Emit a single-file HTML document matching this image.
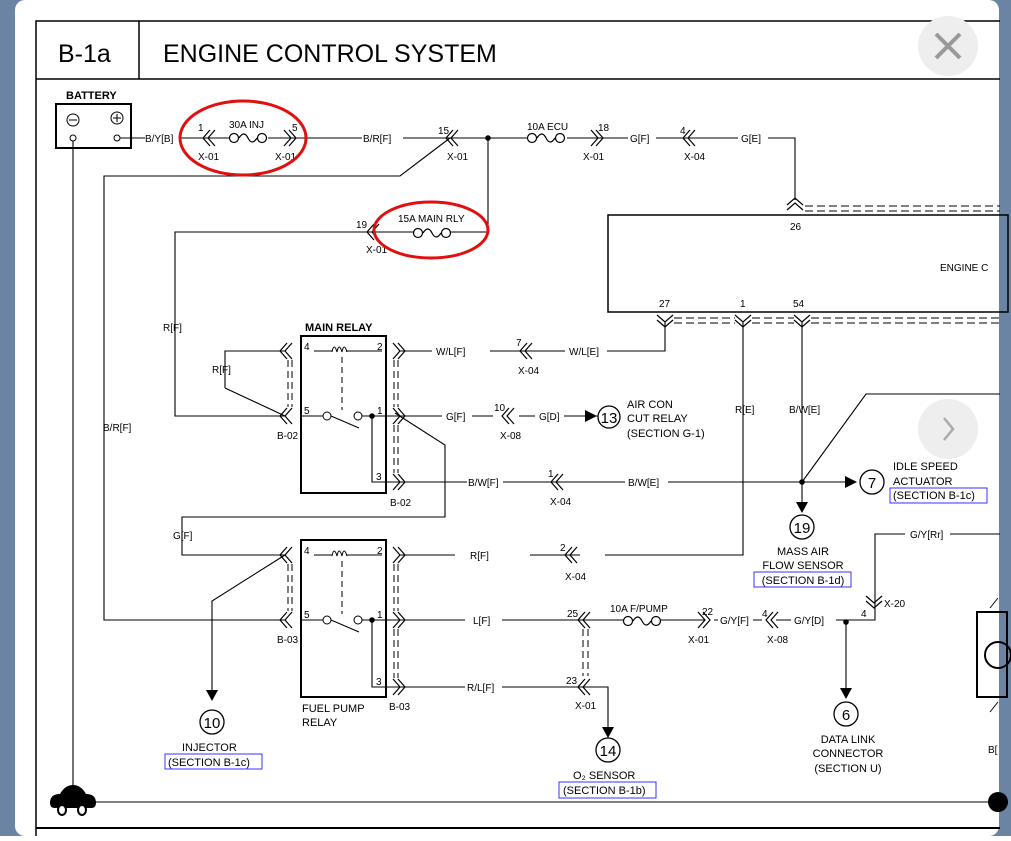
<!DOCTYPE html>
<html><head><meta charset="utf-8"><style>
html,body{margin:0;padding:0;background:#fff;}
body{width:1011px;height:836px;overflow:hidden;position:relative;font-family:"Liberation Sans",sans-serif;}
</style></head><body>
<svg width="1011" height="836" viewBox="0 0 1011 836" xmlns="http://www.w3.org/2000/svg" font-family="Liberation Sans, sans-serif">
<defs>
<g id="cl" fill="none" stroke="#000" stroke-width="1.2"><path d="M7,-8 L0,0 L7,8 M12,-8 L5,0 L12,8"/></g>
<g id="cr" fill="none" stroke="#000" stroke-width="1.2"><path d="M-7,-8 L0,0 L-7,8 M-12,-8 L-5,0 L-12,8"/></g>
<g id="cd" fill="none" stroke="#000" stroke-width="1.2"><path d="M-8,-7 L0,0 L8,-7 M-8,-12 L0,-5 L8,-12"/></g>
<g id="cu" fill="none" stroke="#000" stroke-width="1.2"><path d="M-8,7 L0,0 L8,7 M-8,12 L0,5 L8,12"/></g>
<g id="fuse" fill="#fff" stroke="#000" stroke-width="1.2"><circle cx="0" cy="0" r="4.5"/><path d="M5,0 q5,-8 9,0 t9,0" fill="none"/><circle cx="28" cy="0" r="4.5"/></g>
</defs>
<rect x="0" y="0" width="1011" height="836" fill="#6b84a3"/>
<rect x="15" y="0" width="984" height="836" rx="10" fill="#fff"/>
<g stroke="#000" fill="none" stroke-width="1.5">
<path d="M36,836 V21 H1000"/><path d="M36,79 H1000"/><path d="M139,21 V79"/>
<path d="M36,828 H1000" stroke-width="2"/>
</g>
<text x="58" y="62" font-size="25">B-1a</text>
<text x="163" y="62" font-size="25">ENGINE CONTROL SYSTEM</text>
<circle cx="948" cy="46" r="30" fill="#eee"/>
<path d="M936,34 L960,58 M960,34 L936,58" stroke="#999" stroke-width="4"/>
<circle cx="948" cy="429" r="30" fill="#eee"/>
<path d="M944,418 L953,429 L944,440" stroke="#aaa" stroke-width="2.5" fill="none"/>
<g font-size="10" fill="#000">
<text x="66" y="99" font-size="11" font-weight="bold">BATTERY</text>
<rect x="56" y="104" width="75" height="44" fill="none" stroke="#000" stroke-width="2"/>
<circle cx="73" cy="120" r="6" fill="none" stroke="#000"/><path d="M69,120 H77" stroke="#000"/>
<circle cx="117" cy="118" r="6" fill="none" stroke="#000"/><path d="M113,118 H121 M117,114 V122" stroke="#000"/>
<circle cx="73" cy="138" r="3" fill="#fff" stroke="#000"/><circle cx="117" cy="138" r="3" fill="#fff" stroke="#000"/>
<g stroke="#000" fill="none" stroke-width="1.1">
<path d="M73,141 V800"/>
<path d="M120,138 H145 M181,138 H230 M268,138 H362 M403,138 H530 M567,138 H628 M656,138 H738 M768,138 H795 V200"/>
<path d="M450,138 L400,176 H104 V620 H285"/>
<path d="M488,138 V232 H450 M415,232 H175 V416 H285"/>
<path d="M225,388 V351 H285 M225,388 L285,416"/>
<path d="M400,351 H432 M490,351 H565 M607,351 H665 V322"/>
<path d="M400,416 H442 M472,416 H493 M519,416 H535 M564,416 H598"/>
<path d="M395,413 L445,445 V517 H182 V555 H285"/>
<path d="M372,416 V482 H400 M400,482 H467 M503,482 H625 M668,482 H850"/>
<path d="M743,322 V555 H605 M580,555 H530 M455,555 H400"/>
<path d="M802,322 V505"/><path d="M802,482 L866,394 H1000"/>
<path d="M285,555 L212,601 V690"/>
<path d="M372,620 V687 H400 M400,620 H465 M502,620 H624 M660,620 H705 M714,620 H718 M753,620 H762 M776,620 H791 M836,620 H875 V534 H905 M950,534 H1000"/>
<path d="M846,622 V690"/>
<path d="M400,687 H465 M502,687 H608 V737"/>
<path d="M73,802 H1000"/>
</g>
<circle cx="488" cy="138" r="2.8"/><circle cx="802" cy="482" r="2.8"/><circle cx="846" cy="622" r="2.8"/>
<circle cx="372" cy="416" r="2.8"/><circle cx="372" cy="620" r="2.8"/>
<text x="145" y="142">B/Y[B]</text>
<use href="#cl" x="203" y="138"/><text x="198" y="131">1</text><text x="198" y="160">X-01</text>
<use href="#fuse" x="234" y="138"/><text x="229" y="128">30A INJ</text>
<use href="#cr" x="296" y="138"/><text x="292" y="131">5</text><text x="275" y="160">X-01</text>
<text x="363" y="142">B/R[F]</text>
<use href="#cl" x="446" y="138"/><text x="438" y="134">15</text><text x="447" y="160">X-01</text>
<use href="#fuse" x="532" y="138"/><text x="527" y="130">10A ECU</text>
<use href="#cr" x="603" y="138"/><text x="598" y="131">18</text><text x="583" y="160">X-01</text>
<text x="630" y="142">G[F]</text>
<use href="#cl" x="683" y="138"/><text x="680" y="134">4</text><text x="684" y="160">X-04</text>
<text x="741" y="142">G[E]</text>
<use href="#cl" x="367" y="232"/><text x="356" y="228">19</text><text x="366" y="253">X-01</text>
<use href="#fuse" x="418" y="233"/><text x="398" y="222">15A MAIN RLY</text>
<ellipse cx="243" cy="138" rx="63" ry="37" fill="none" stroke="#e0100f" stroke-width="3"/>
<ellipse cx="431" cy="230" rx="57" ry="28" fill="none" stroke="#e0100f" stroke-width="3"/>
<rect x="608" y="215" width="400" height="97" fill="none" stroke="#000" stroke-width="1.5"/>
<use href="#cu" x="795" y="198"/>
<path d="M805,206 H1000 M805,211 H1000" stroke="#000" stroke-dasharray="8,4"/>
<text x="790" y="230">26</text>
<text x="940" y="271">ENGINE C</text>
<text x="659" y="307">27</text><text x="740" y="307">1</text><text x="793" y="307">54</text>
<use href="#cd" x="665" y="327"/><use href="#cd" x="743" y="327"/><use href="#cd" x="802" y="327"/>
<path d="M674,318 H735 M674,323 H735 M752,318 H794 M752,323 H794 M811,318 H1000 M811,323 H1000" stroke="#000" stroke-dasharray="8,4"/>
<text x="305" y="331" font-size="11" font-weight="bold">MAIN RELAY</text>
<rect x="301" y="336" width="85" height="157" fill="none" stroke="#000" stroke-width="2"/>
<text x="304" y="350">4</text><text x="377" y="350">2</text><text x="304" y="414">5</text><text x="377" y="414">1</text><text x="376" y="480">3</text>
<path d="M314,351 H332 M346,351 H382" stroke="#000"/>
<path d="M332,352 q2,-10 5,0 q2,-10 5,0 q2,-10 5,0" fill="none" stroke="#000"/>
<path d="M342,357 V410" stroke="#000" stroke-dasharray="6,4"/>
<path d="M301,416 H323 M331,416 L359,428" stroke="#000"/>
<circle cx="327" cy="416" r="4" fill="#fff" stroke="#000"/><circle cx="358" cy="416" r="4" fill="#fff" stroke="#000"/>
<path d="M362,416 H400" stroke="#000"/>
<use href="#cl" x="280" y="351"/><use href="#cl" x="280" y="416"/>
<use href="#cr" x="405" y="351"/><use href="#cr" x="405" y="416"/><use href="#cr" x="405" y="482"/>
<path d="M288,360 V407 M292,360 V407 M394,360 V407 M398,360 V407 M394,425 V473 M398,425 V473" stroke="#000" stroke-dasharray="7,4"/>
<text x="277" y="439">B-02</text><text x="390" y="506">B-02</text>
<text x="163" y="331">R[F]</text><text x="212" y="373">R[F]</text>
<text x="436" y="355">W/L[F]</text>
<use href="#cl" x="520" y="351"/><text x="516" y="346">7</text><text x="518" y="374">X-04</text>
<text x="569" y="355">W/L[E]</text>
<text x="446" y="420">G[F]</text>
<use href="#cl" x="502" y="416"/><text x="494" y="411">10</text><text x="500" y="439">X-08</text>
<text x="539" y="420">G[D]</text>
<path d="M585,410 L597,416 L585,422 Z"/>
<circle cx="609" cy="417" r="11" fill="none" stroke="#000" stroke-width="1.3"/><text x="609" y="423" font-size="15" text-anchor="middle">13</text>
<text x="627" y="408" font-size="11">AIR CON</text><text x="627" y="422" font-size="11">CUT RELAY</text><text x="627" y="437" font-size="11">(SECTION G-1)</text>
<text x="103" y="431">B/R[F]</text>
<text x="468" y="486">B/W[F]</text>
<use href="#cl" x="551" y="482"/><text x="548" y="477">1</text><text x="550" y="505">X-04</text>
<text x="628" y="486">B/W[E]</text>
<text x="735" y="413">R[E]</text><text x="789" y="413">B/W[E]</text>
<path d="M845,476 L857,482 L845,488 Z"/>
<circle cx="872" cy="482" r="12" fill="none" stroke="#000" stroke-width="1.3"/><text x="872" y="488" font-size="15" text-anchor="middle">7</text>
<text x="893" y="470" font-size="11">IDLE SPEED</text><text x="893" y="485" font-size="11">ACTUATOR</text>
<text x="893" y="499" font-size="11">(SECTION B-1c)</text><rect x="890" y="488" width="97" height="15" fill="none" stroke="#33f"/>
<path d="M796,502 L802,513 L808,502 Z"/>
<circle cx="802" cy="527" r="12" fill="none" stroke="#000" stroke-width="1.3"/><text x="802" y="533" font-size="15" text-anchor="middle">19</text>
<text x="803" y="555" font-size="11" text-anchor="middle">MASS AIR</text><text x="803" y="569" font-size="11" text-anchor="middle">FLOW SENSOR</text>
<text x="803" y="584" font-size="11" text-anchor="middle">(SECTION B-1d)</text><rect x="754" y="572" width="97" height="15" fill="none" stroke="#33f"/>
<text x="173" y="539">G[F]</text>
<rect x="301" y="540" width="85" height="157" fill="none" stroke="#000" stroke-width="2"/>
<text x="304" y="554">4</text><text x="377" y="554">2</text><text x="304" y="618">5</text><text x="377" y="618">1</text><text x="376" y="685">3</text>
<path d="M314,555 H332 M346,555 H382" stroke="#000"/>
<path d="M332,556 q2,-10 5,0 q2,-10 5,0 q2,-10 5,0" fill="none" stroke="#000"/>
<path d="M342,561 V614" stroke="#000" stroke-dasharray="6,4"/>
<path d="M301,620 H323 M331,620 L359,632" stroke="#000"/>
<circle cx="327" cy="620" r="4" fill="#fff" stroke="#000"/><circle cx="358" cy="620" r="4" fill="#fff" stroke="#000"/>
<path d="M362,620 H400" stroke="#000"/>
<use href="#cl" x="280" y="555"/><use href="#cl" x="280" y="620"/>
<use href="#cr" x="405" y="555"/><use href="#cr" x="405" y="620"/><use href="#cr" x="405" y="687"/>
<path d="M288,564 V611 M292,564 V611 M394,564 V611 M398,564 V611 M394,629 V678 M398,629 V678" stroke="#000" stroke-dasharray="7,4"/>
<text x="277" y="643">B-03</text><text x="389" y="710">B-03</text>
<text x="302" y="712" font-size="11">FUEL PUMP</text><text x="302" y="726" font-size="11">RELAY</text>
<text x="470" y="559">R[F]</text>
<use href="#cl" x="565" y="555"/><text x="560" y="551">2</text><text x="565" y="580">X-04</text>
<text x="473" y="624">L[F]</text>
<use href="#cl" x="578" y="620"/><text x="567" y="617">25</text>
<path d="M583,629 V676 M588,629 V676" stroke="#000" stroke-dasharray="7,4"/>
<use href="#fuse" x="628" y="621"/><text x="610" y="612">10A F/PUMP</text>
<use href="#cr" x="710" y="620"/><text x="702" y="615">22</text><text x="688" y="643">X-01</text>
<text x="720" y="624">G/Y[F]</text>
<use href="#cl" x="766" y="620"/><text x="762" y="617">4</text><text x="767" y="643">X-08</text>
<text x="794" y="624">G/Y[D]</text>
<text x="910" y="538">G/Y[Rr]</text>
<use href="#cd" x="874" y="608"/><text x="861" y="617">4</text><text x="884" y="607">X-20</text>
<text x="467" y="691">R/L[F]</text>
<use href="#cl" x="578" y="687"/><text x="566" y="684">23</text><text x="575" y="709">X-01</text>
<path d="M206,690 L212,701 L218,690 Z"/>
<circle cx="212" cy="722" r="12" fill="none" stroke="#000" stroke-width="1.3"/><text x="212" y="728" font-size="15" text-anchor="middle">10</text>
<text x="182" y="751" font-size="11">INJECTOR</text>
<text x="168" y="766" font-size="11">(SECTION B-1c)</text><rect x="165" y="754" width="97" height="15" fill="none" stroke="#33f"/>
<path d="M602,727 L608,738 L614,727 Z"/>
<circle cx="608" cy="750" r="12" fill="none" stroke="#000" stroke-width="1.3"/><text x="608" y="756" font-size="15" text-anchor="middle">14</text>
<text x="573" y="779" font-size="11">O₂ SENSOR</text>
<text x="563" y="794" font-size="11">(SECTION B-1b)</text><rect x="559" y="782" width="97" height="16" fill="none" stroke="#33f"/>
<path d="M840,688 L846,699 L852,688 Z"/>
<circle cx="846" cy="714" r="12" fill="none" stroke="#000" stroke-width="1.3"/><text x="846" y="720" font-size="15" text-anchor="middle">6</text>
<text x="848" y="743" font-size="11" text-anchor="middle">DATA LINK</text><text x="848" y="757" font-size="11" text-anchor="middle">CONNECTOR</text><text x="848" y="772" font-size="11" text-anchor="middle">(SECTION U)</text>
<rect x="977" y="612" width="30" height="85" fill="none" stroke="#000" stroke-width="2"/>
<circle cx="998" cy="655" r="13" fill="none" stroke="#000" stroke-width="2"/>
<path d="M990,608 L998,598 M990,712 L998,702" stroke="#000"/>
<text x="988" y="753">B[</text>
<circle cx="998" cy="802" r="10"/>
<path d="M50,803 q0,-9 10,-9 q5,-9 13,-9 q8,0 13,9 q10,0 10,9 q0,5 -5,5 h-36 q-5,0 -5,-5 Z"/>
<ellipse cx="62" cy="810" rx="4" ry="5" fill="#fff" stroke="#000" stroke-width="2"/>
<ellipse cx="82" cy="810" rx="4" ry="5" fill="#fff" stroke="#000" stroke-width="2"/>
</g>
</svg>
</body></html>
